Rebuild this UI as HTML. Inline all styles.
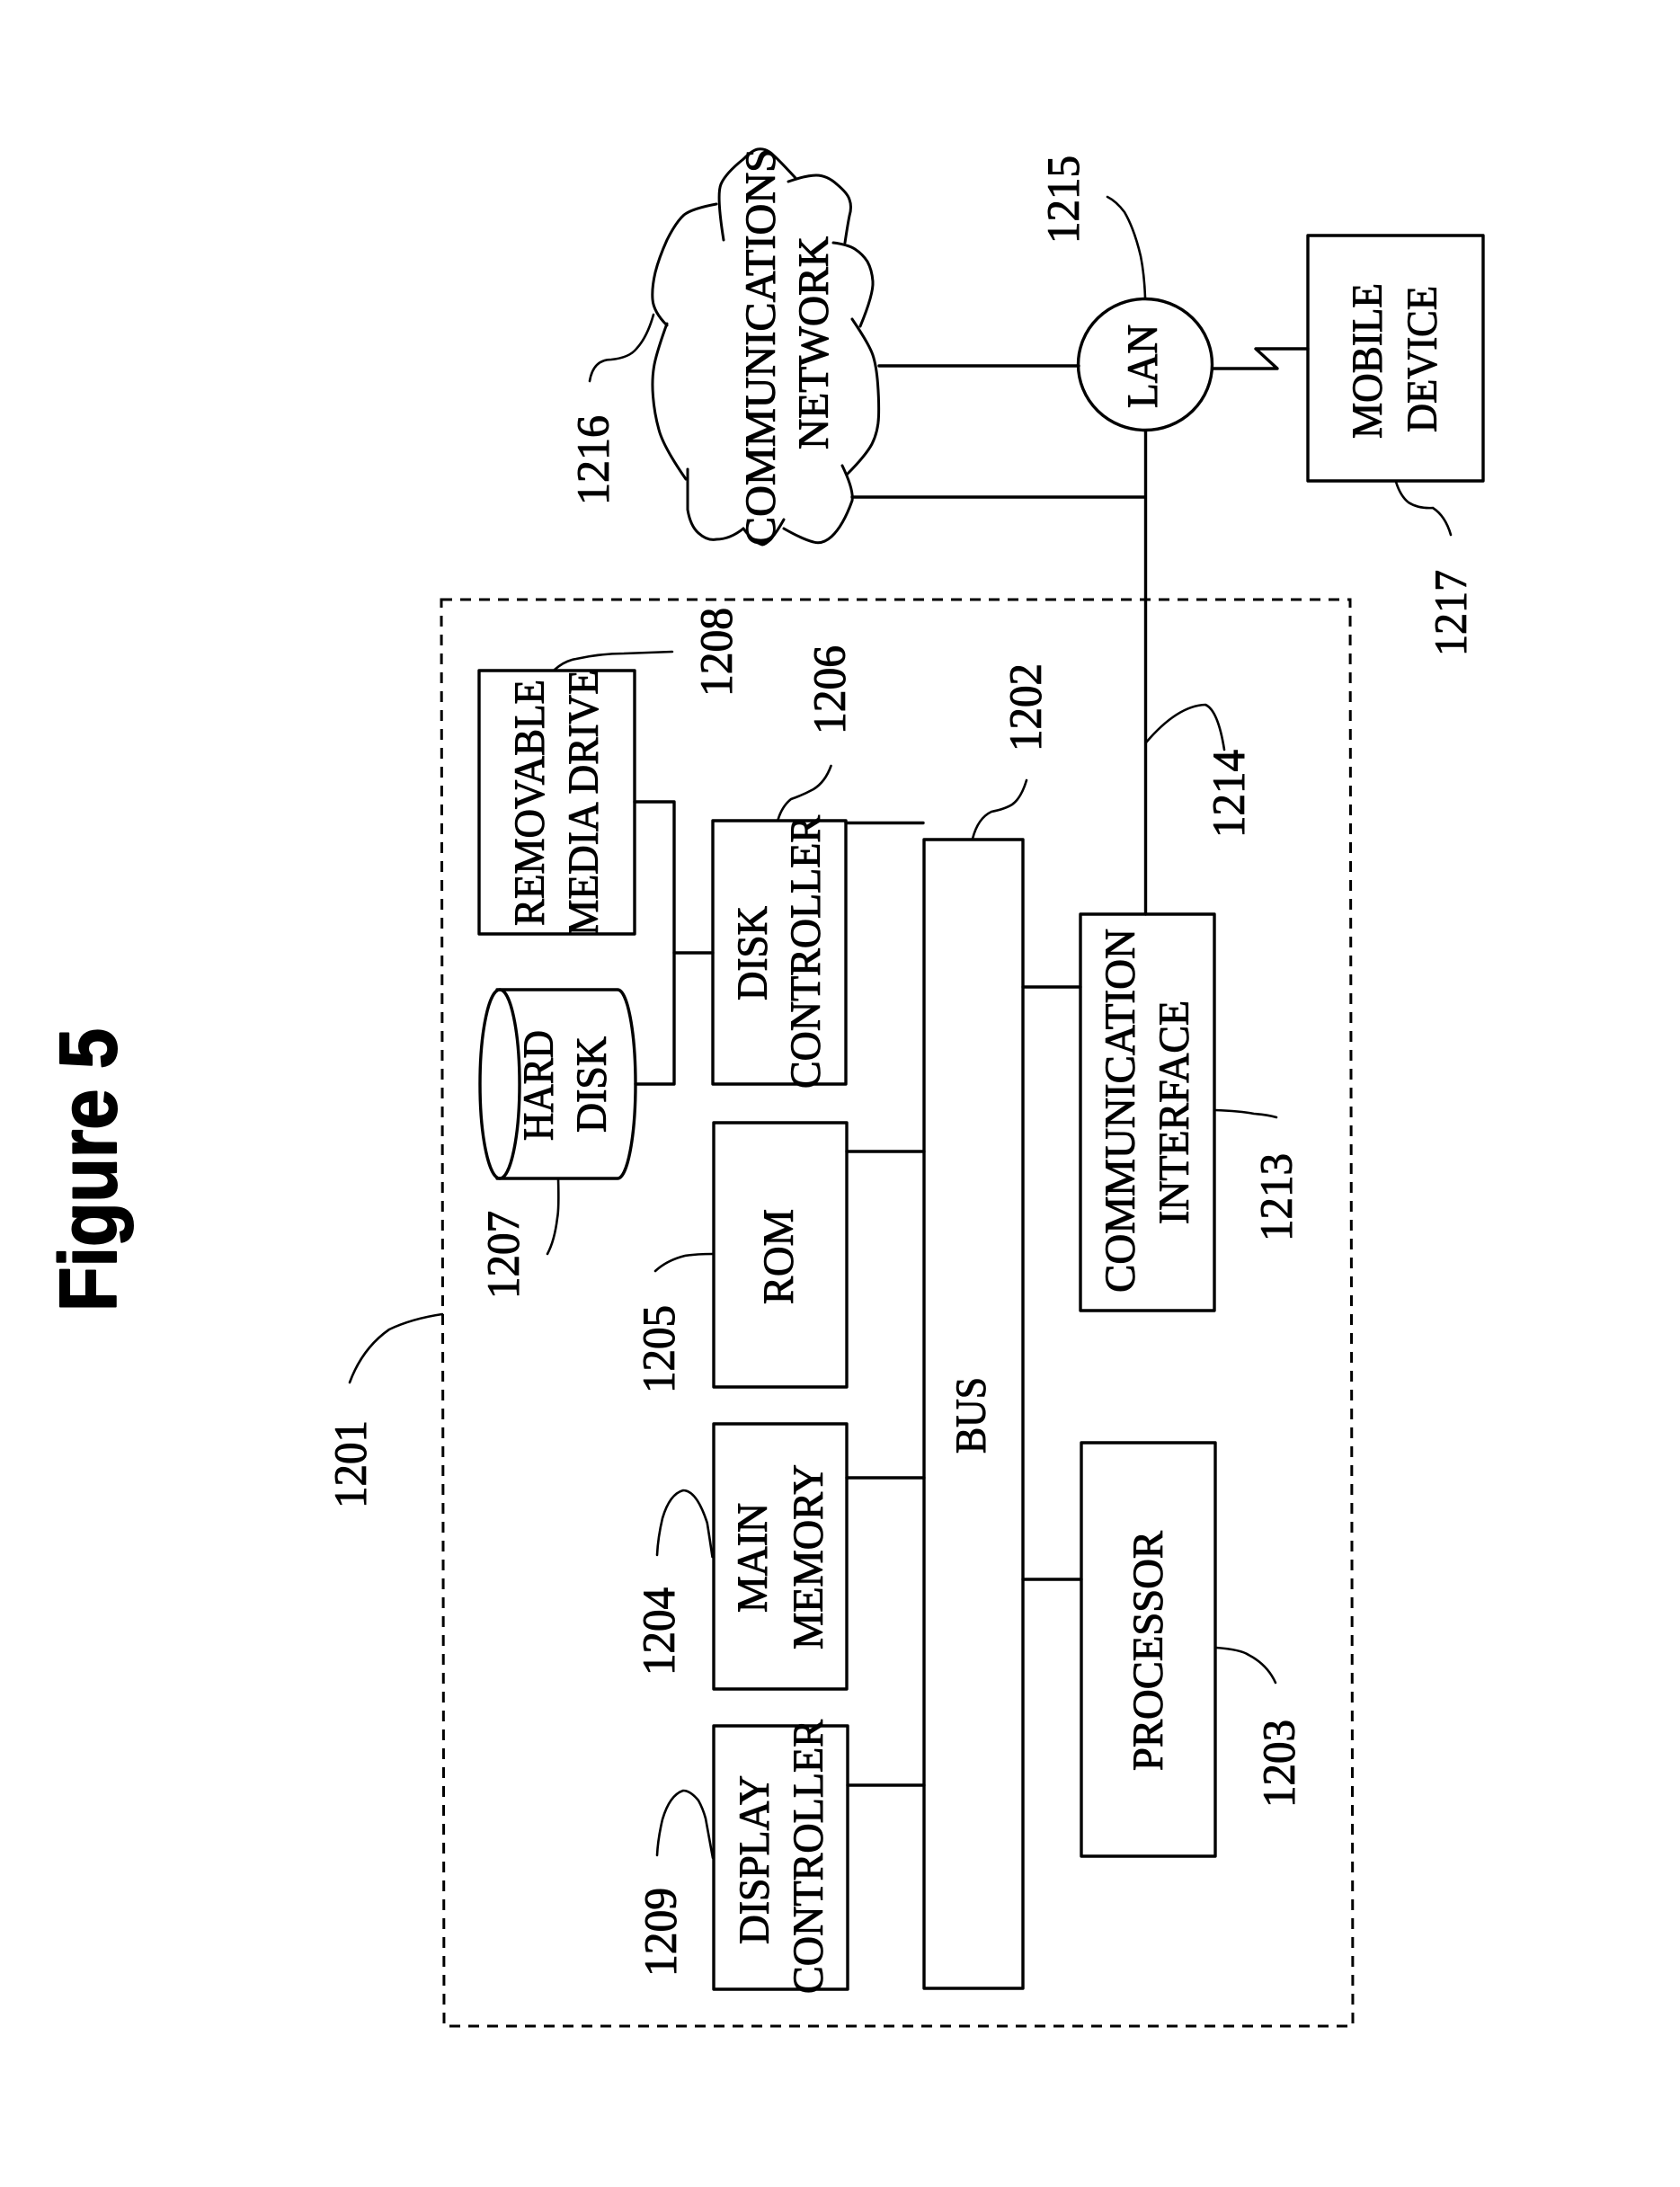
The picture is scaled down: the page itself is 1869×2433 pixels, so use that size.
<!DOCTYPE html>
<html>
<head>
<meta charset="utf-8">
<style>
html,body{margin:0;padding:0;background:#fff;}
svg{display:block;}
text{font-family:"Liberation Serif",serif;font-size:48px;fill:#000;stroke:#000;stroke-width:1px;}
.n{font-size:51px;}
.fig{font-family:"Liberation Sans",sans-serif;font-weight:bold;font-size:90px;stroke-width:2px;stroke-linejoin:round;}
.l{fill:none;stroke:#000;stroke-width:3.4;stroke-linejoin:round;stroke-linecap:round;}
.t{fill:none;stroke:#000;stroke-width:2.6;stroke-linecap:round;}
.c{fill:none;stroke:#000;stroke-width:3;stroke-linecap:round;}
</style>
</head>
<body>
<svg width="1869" height="2433" viewBox="0 0 1869 2433" xmlns="http://www.w3.org/2000/svg">
<rect width="1869" height="2433" fill="#fff"/>

<!-- Title -->
<text class="fig" lengthAdjust="spacingAndGlyphs" textLength="315" transform="translate(129,1459) rotate(-90)">Figure 5</text>

<!-- Dashed boundary -->
<path d="M491 667 L1502 667 L1505 2254 L494 2254 Z" fill="none" stroke="#000" stroke-width="3" stroke-dasharray="12 9"/>

<!-- Boxes -->
<rect class="l" x="533" y="746" width="173" height="293"/>
<rect class="l" x="793" y="913" width="148" height="293"/>
<rect class="l" x="794" y="1249" width="148" height="294"/>
<rect class="l" x="794" y="1584" width="148" height="295"/>
<rect class="l" x="794" y="1920" width="149" height="293"/>
<rect class="l" x="1028" y="934" width="110" height="1278"/>
<rect class="l" x="1202" y="1017" width="149" height="441"/>
<rect class="l" x="1203" y="1605" width="149" height="460"/>
<rect class="l" x="1455" y="262" width="195" height="273"/>

<!-- Hard disk cylinder -->
<ellipse class="l" cx="556" cy="1206" rx="22" ry="105"/>
<path class="l" d="M553 1101H687A20 105 0 0 1 687 1311H553"/>

<!-- LAN -->
<ellipse class="l" cx="1274" cy="405.5" rx="74.5" ry="73"/>

<!-- Connectors -->
<path class="l" d="M706 892H750V1206H707"/>
<path class="l" d="M750 1060H793"/>
<path class="l" d="M941 915.5H1027"/>
<path class="l" d="M942 1281H1028"/>
<path class="l" d="M942 1644H1028"/>
<path class="l" d="M943 1986H1028"/>
<path class="l" d="M1138 1098H1202"/>
<path class="l" d="M1138 1757H1203"/>
<path class="l" d="M1274.5 479V1017"/>
<path class="l" d="M948 553H1274"/>
<path class="l" d="M978 407H1200"/>
<path class="l" d="M1349 410H1421L1397 388H1455"/>

<!-- Cloud -->
<path class="c" d="M742 360Q730 393 727.5 408Q725 423 726.5 441Q728 460 733 478Q738 497 763 533"/>
<path class="c" d="M765 522L765 567Q768 585 777 593Q787 602 797 600Q812 600 827 588"/>
<path class="c" d="M827 588Q838 603 848 606Q857 605 872 578"/>
<path class="c" d="M872 588Q893 600 905 603Q915 606 925 597Q938 585 948 557Q950 545 937 518"/>
<path class="c" d="M942 528Q963 507 970 494Q977 480 977.5 463Q978 447 976.5 427Q975 407 971 395Q967 383 948 355"/>
<path class="c" d="M957 363Q972 327 971 313Q970 300 965 291Q960 283 951 277Q943 272 927 270"/>
<path class="c" d="M940 270Q943 250 945 240Q948 230 945 222Q943 215 931 205Q920 195 908 195Q897 195 877 202"/>
<path class="c" d="M885 198Q862 173 856 169Q850 165 843 166Q837 167 827 177"/>
<path class="c" d="M827 177Q807 193 802 205Q797 217 805 267"/>
<path class="c" d="M797 227Q770 232 761 239Q752 247 742 267Q733 287 729 303Q725 320 726 333Q727 347 742 362"/>

<!-- Leaders -->
<path class="t" d="M656 424Q660 400 680 400Q700 398 708 388Q720 375 727 350"/>
<path class="t" d="M1274 331Q1273 305 1269 285Q1262 255 1251 236Q1242 224 1232 219"/>
<path class="t" d="M1553 536Q1558 552 1567 559Q1578 566 1594 565Q1608 574 1614 595"/>
<path class="t" d="M1275 826Q1310 785 1341 784Q1355 790 1362 834"/>
<path class="t" d="M1082 933Q1088 910 1103 903Q1118 900 1126 895Q1136 888 1142 868"/>
<path class="t" d="M865.5 912Q870 897 880 889Q892 885 905 878Q918 870 924.5 852"/>
<path class="t" d="M617 745Q628 735 641 733Q668 727 694 727Q720 726 748 725"/>
<path class="t" d="M621 1311Q622 1345 620 1355Q617 1380 609 1395"/>
<path class="t" d="M492 1462Q458 1467 433 1479Q403 1500 389 1538"/>
<path class="t" d="M792.5 1395Q775 1395 762 1397Q742 1402 729 1414"/>
<path class="t" d="M792.5 1732Q789 1708 786.7 1694Q775 1658 760 1658Q745 1662 737 1689Q732 1710 731 1730"/>
<path class="t" d="M793 2067Q788 2040 785 2023Q782 2012 777 2003Q768 1992 760 1992Q745 1997 737 2024Q732 2045 731 2064"/>
<path class="t" d="M1351 1235Q1380 1236 1395 1239Q1410 1240 1420 1243"/>
<path class="t" d="M1353 1833Q1380 1835 1389 1841Q1410 1852 1419 1872"/>

<!-- Box labels -->
<text lengthAdjust="spacingAndGlyphs" textLength="274" transform="translate(605,1030) rotate(-90)">REMOVABLE</text>
<text lengthAdjust="spacingAndGlyphs" textLength="296" transform="translate(665,1041) rotate(-90)">MEDIA DRIVE</text>
<text lengthAdjust="spacingAndGlyphs" textLength="105" transform="translate(853,1113) rotate(-90)">DISK</text>
<text lengthAdjust="spacingAndGlyphs" textLength="304" transform="translate(912,1211) rotate(-90)">CONTROLLER</text>
<text lengthAdjust="spacingAndGlyphs" textLength="123" transform="translate(615,1269) rotate(-90)">HARD</text>
<text lengthAdjust="spacingAndGlyphs" textLength="107" transform="translate(674,1260) rotate(-90)">DISK</text>
<text lengthAdjust="spacingAndGlyphs" textLength="106" transform="translate(882,1451) rotate(-90)">ROM</text>
<text lengthAdjust="spacingAndGlyphs" textLength="122" transform="translate(853,1794) rotate(-90)">MAIN</text>
<text lengthAdjust="spacingAndGlyphs" textLength="206" transform="translate(915,1835) rotate(-90)">MEMORY</text>
<text lengthAdjust="spacingAndGlyphs" textLength="188" transform="translate(855,2163) rotate(-90)">DISPLAY</text>
<text lengthAdjust="spacingAndGlyphs" textLength="305" transform="translate(915,2218) rotate(-90)">CONTROLLER</text>
<text lengthAdjust="spacingAndGlyphs" textLength="85" transform="translate(1096,1617) rotate(-90)">BUS</text>
<text lengthAdjust="spacingAndGlyphs" textLength="405" transform="translate(1262,1438) rotate(-90)">COMMUNICATION</text>
<text lengthAdjust="spacingAndGlyphs" textLength="249" transform="translate(1322,1362) rotate(-90)">INTERFACE</text>
<text lengthAdjust="spacingAndGlyphs" textLength="267" transform="translate(1293,1970) rotate(-90)">PROCESSOR</text>
<text lengthAdjust="spacingAndGlyphs" textLength="442" transform="translate(862,607) rotate(-90)">COMMUNICATIONS</text>
<text lengthAdjust="spacingAndGlyphs" textLength="237" transform="translate(921,500) rotate(-90)">NETWORK</text>
<text lengthAdjust="spacingAndGlyphs" textLength="93" transform="translate(1287,454) rotate(-90)">LAN</text>
<text lengthAdjust="spacingAndGlyphs" textLength="173" transform="translate(1537,488) rotate(-90)">MOBILE</text>
<text lengthAdjust="spacingAndGlyphs" textLength="163" transform="translate(1598,481) rotate(-90)">DEVICE</text>

<!-- Reference numerals -->
<text class="n" lengthAdjust="spacingAndGlyphs" textLength="98" transform="translate(407,1678) rotate(-90)">1201</text>
<text class="n" lengthAdjust="spacingAndGlyphs" textLength="98" transform="translate(1158,836) rotate(-90)">1202</text>
<text class="n" lengthAdjust="spacingAndGlyphs" textLength="98" transform="translate(1440,2011) rotate(-90)">1203</text>
<text class="n" lengthAdjust="spacingAndGlyphs" textLength="98" transform="translate(750,1864) rotate(-90)">1204</text>
<text class="n" lengthAdjust="spacingAndGlyphs" textLength="98" transform="translate(750,1550) rotate(-90)">1205</text>
<text class="n" lengthAdjust="spacingAndGlyphs" textLength="99" transform="translate(940,817) rotate(-90)">1206</text>
<text class="n" lengthAdjust="spacingAndGlyphs" textLength="98" transform="translate(577,1445) rotate(-90)">1207</text>
<text class="n" lengthAdjust="spacingAndGlyphs" textLength="99" transform="translate(814,775) rotate(-90)">1208</text>
<text class="n" lengthAdjust="spacingAndGlyphs" textLength="99" transform="translate(752,2199) rotate(-90)">1209</text>
<text class="n" lengthAdjust="spacingAndGlyphs" textLength="98" transform="translate(1437,1381) rotate(-90)">1213</text>
<text class="n" lengthAdjust="spacingAndGlyphs" textLength="98" transform="translate(1384,932) rotate(-90)">1214</text>
<text class="n" lengthAdjust="spacingAndGlyphs" textLength="98" transform="translate(1200,271) rotate(-90)">1215</text>
<text class="n" lengthAdjust="spacingAndGlyphs" textLength="100" transform="translate(677,562) rotate(-90)">1216</text>
<text class="n" lengthAdjust="spacingAndGlyphs" textLength="96" transform="translate(1631,730) rotate(-90)">1217</text>
</svg>
</body>
</html>
